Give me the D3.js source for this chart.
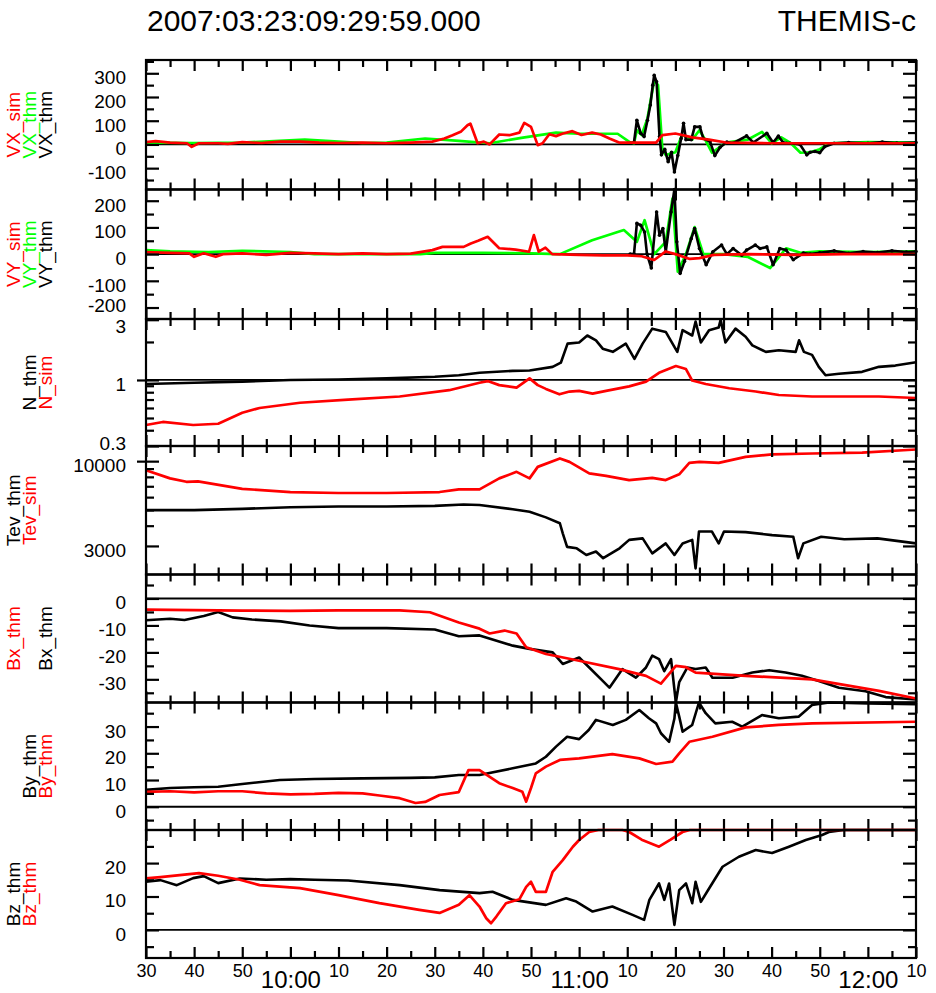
<!DOCTYPE html>
<html>
<head>
<meta charset="utf-8">
<title>THEMIS-c</title>
<script src="https://cdn.jsdelivr.net/npm/d3@7"></script>
<style>
  body { margin: 0; background: #fff; }
  svg { display: block; font-family: "Liberation Sans", Arial, Helvetica, sans-serif; }
  .tick line { stroke: #000; stroke-width: 2.2px; }
</style>
</head>
<body>
<svg id="chart" width="936" height="993"></svg>
<script>
// minutes after 09:30 UT, value
const vxSim = [[0,10],[2,14],[5,8],[8.5,5],[9.5,-10],[11,5],[15,5],[17,2],[20,10],[24,6],[28,12],[32,12],[36,8],[40,6],[45,8],[50,5],[55,8],[59.5,12],[62,25],[63.7,39],[65.5,55],[66.8,81],[67.4,88],[68.9,5],[70.2,12],[71.4,0],[73.4,42],[75.5,39],[77.6,50],[78.6,91],[80,74],[81.4,-3],[82.4,5],[83.8,43],[85.2,35],[86.5,45],[88.6,56],[90.5,40],[92.7,50],[94.5,42],[96.3,25],[98.3,8],[101,8],[106,8],[107.3,39],[110,46],[113.5,30],[117,20],[120.5,8],[130,5],[140,5],[150,5],[160,5]];
const vxThmLo = [[0,8],[10,6],[20,8],[33,20],[40,12],[45,6],[50,8],[58,25],[65,15],[71.4,5],[78,28],[85.2,50],[90,45],[98,45],[100.5,10],[101.4,5],[102,60],[103,40],[104.2,110],[105.6,270],[106.4,250],[107.3,-20],[108,-45],[110,-33],[111.4,41],[113.5,20],[115,60],[116.2,20],[117.6,-35],[120.5,8],[125,20],[128,53],[130,5],[132,30],[134,5],[136,-35],[138,-33],[140,-20],[142,5],[150,10],[160,8]];
const vxThm = [[100.6,5],[101.4,8],[102,102],[102.8,47],[103.5,33],[104.2,102],[104.8,166],[105.3,250],[105.6,292],[106.1,264],[106.7,33],[107.1,-44],[107.8,-21],[108.5,-73],[109.2,-33],[109.8,-116],[110.5,-47],[111.2,25],[111.7,89],[112.2,20],[113.3,20],[114,74],[115.1,74],[115.8,25],[117.2,12],[118.2,-47],[119.3,-12],[120.7,10],[122,5],[124.8,36],[126.2,8],[129,47],[130.3,8],[131.4,35],[132.4,8],[133.8,5],[135.9,0],[137.3,-44],[138,-33],[139,-30],[140,-35],[141,-10],[143,5],[146,8],[150,5],[153,10],[156,6],[160,8]];

const vySim = [[0,8],[5,5],[9,3],[10,-10],[12,3],[14.5,-10],[16,0],[20,3],[25,-3],[30,5],[35,3],[40,0],[45,3],[50,0],[55,2],[59.5,15],[61.6,27],[66,27],[67.5,40],[69,50],[71,65],[73.4,22],[76.8,17],[79.6,9],[80.6,71],[81.6,9],[83,24],[84.4,0],[90,-3],[95,-5],[100,-5],[103,-8],[105.6,-22],[108,10],[110,0],[113,-18],[115,-15],[118,-3],[125,0],[135,-3],[145,0],[160,0]];
const vyThmLo = [[0,15],[5,10],[13,8],[20,12],[30,8],[35,0],[57,0],[60,5],[70,5],[80,3],[86,0],[92.7,52],[99.3,90],[102,46],[103.6,127],[105.6,0],[108,46],[109.4,208],[110.5,-66],[112.2,0],[114,101],[115.8,0],[120,0],[125,-10],[129.7,-52],[133,22],[136,5],[140,10],[150,8],[160,10]];
const vyThm = [[100.6,0],[101.4,0],[102,115],[102.8,108],[103.6,83],[104.1,0],[105,-52],[106.1,158],[106.7,71],[107.4,96],[108,9],[109.1,158],[109.8,283],[110.3,46],[111,-72],[111.9,-27],[113.3,58],[114,96],[115,21],[116.4,-40],[117.8,9],[119.6,34],[120.7,0],[122,21],[123.8,-4],[124.8,15],[126.6,34],[127.6,21],[129,27],[130.3,-40],[131.7,21],[133,15],[134.5,-21],[136.6,4],[138,0],[140,5],[143,12],[146,3],[149,10],[152,6],[155,12],[158,8],[160,10]];

const nSim = [[0,0.44],[3.5,0.465],[9.8,0.44],[15,0.45],[20,0.55],[23.6,0.6],[32,0.66],[42,0.7],[52.7,0.74],[63,0.83],[69.3,0.95],[71,0.98],[73.4,0.91],[77,0.87],[79.7,1.03],[81.4,0.91],[83.1,0.85],[85.9,0.77],[88,0.81],[90,0.82],[92.8,0.78],[95.6,0.82],[100.4,0.89],[103.9,0.97],[106.6,1.14],[110.1,1.29],[112.2,1.22],[113.5,0.99],[116.3,0.93],[121.2,0.86],[126.7,0.81],[131.5,0.76],[138.4,0.74],[145.4,0.74],[152.3,0.74],[160,0.72]];
const nThm = [[0,0.93],[10,0.95],[20,0.97],[30,1.0],[40,1.01],[50,1.03],[60,1.06],[65,1.09],[69.3,1.14],[76.2,1.18],[79.7,1.19],[84.5,1.27],[86.2,1.37],[87.6,1.94],[90,1.98],[91.7,2.25],[93.5,2.06],[94.9,1.77],[97,1.67],[99.7,1.94],[101.5,1.47],[103.2,1.94],[105.2,2.55],[108,2.4],[110.4,1.67],[111.5,2.48],[113.5,2.25],[114.2,2.9],[115.3,1.98],[117,2.48],[119,2.6],[119.4,3.0],[120.4,1.98],[122.5,2.55],[124.6,2.2],[126,1.88],[128.8,1.67],[131.5,1.72],[135,1.67],[135.7,2.06],[136.7,1.67],[138.4,1.58],[139.8,1.27],[141.2,1.09],[144,1.12],[148.8,1.16],[152.3,1.27],[155.7,1.3],[160,1.38]];

const tevSim = [[0,8800],[5,7830],[8.4,7460],[10.8,7500],[20,6750],[30,6450],[40,6360],[50,6360],[61,6450],[65,6700],[69.3,6700],[73.4,7830],[77,8590],[79.7,7830],[81.4,9220],[86,10390],[88,9900],[92.1,8400],[95.6,8120],[100.4,7640],[105.2,7890],[108,7640],[110.8,8300],[112.9,9760],[115,9900],[119,9760],[124.6,10630],[130.1,11000],[138.4,11150],[148.8,11300],[160,11800]];
const tevThm = [[0,4990],[10,4990],[20,5080],[30,5200],[40,5250],[50,5250],[60,5300],[66,5400],[69.3,5360],[76.2,5050],[79.7,4870],[83.1,4500],[86,4140],[86.6,3590],[87.5,2960],[89.5,2900],[91.5,2640],[93.5,2770],[95,2520],[98.4,2900],[100.4,3270],[103.2,3340],[105.2,2700],[108,3110],[109.8,2640],[111.5,3110],[113.5,3270],[114.2,2180],[114.9,3680],[117.6,3680],[119,3110],[120.1,3680],[124.6,3650],[130.1,3500],[134.5,3420],[135.5,2520],[136.6,3110],[140.3,3420],[145.1,3300],[152,3340],[160,3110]];

const bxSim = [[0,-4.1],[10,-4.3],[20,-4.5],[30,-4.6],[40,-4.4],[52.7,-4.4],[59,-5.1],[65,-8.9],[69.3,-11.2],[71.4,-13],[74.5,-11.9],[77,-13],[79,-18.1],[83.1,-20.6],[90,-23.1],[98.3,-26.2],[103.9,-28.7],[107,-31.6],[110.1,-25],[112.2,-25.5],[114.2,-27.5],[124.6,-28.7],[138.4,-30],[152.3,-34.3],[160,-37.1]];
const bxThm = [[0,-8.1],[5,-7.5],[8,-8],[12,-6.5],[15,-5],[18,-7],[22,-7.8],[28,-8.5],[34,-10],[40,-11],[50,-11],[60,-11.5],[65,-14],[69.3,-13.7],[76.2,-17.5],[79.7,-18.7],[84.5,-20],[86.6,-24.3],[90,-21.9],[92.1,-25.6],[94.9,-30.6],[96.3,-33.1],[99,-26.2],[101.8,-29.4],[103.9,-25.6],[105.2,-21.2],[106.6,-22.5],[107.7,-27],[109.1,-22.5],[110.1,-39],[110.8,-31],[112.5,-25.6],[114.2,-26.2],[116.3,-25.6],[117.7,-29.4],[121.9,-29.4],[126,-27.5],[129.5,-26.6],[132.9,-27.5],[136.3,-28.7],[139.8,-30.6],[144,-33.1],[149.5,-34.4],[153.7,-36.6],[160,-37.5]];

const bySim = [[0,5.6],[5,5.8],[10,5.4],[15,5.8],[20,5.8],[25,5],[30,4.6],[35,4.8],[40,5.2],[45,5],[48.5,4.2],[52.7,3.2],[56,1.4],[58,1.8],[61,4.4],[65,5.5],[67,13.7],[69.3,13.7],[73.4,8.8],[76.2,7],[78.2,5.6],[79,1.9],[80,7],[81,12.5],[83.1,15],[86,17.5],[90,18.1],[96.9,19.7],[102.5,18.1],[106,16],[109.4,16.9],[110.8,20],[112.9,24.3],[117.7,26.2],[124.6,29.7],[131.5,30.6],[138.4,31.2],[160,31.8]];
const byThm = [[0,6.3],[5,7],[10,7.3],[15,7.5],[20,8.5],[27.8,10],[35,10.4],[45,10.6],[55,10.8],[60,11],[65,11.9],[69.3,11.9],[76.2,14.4],[81,16.2],[83.1,18.7],[85.2,22.5],[87.5,26.2],[90,25.3],[92,28.7],[93.5,32.5],[97,30.6],[99.7,32.5],[102.5,36.2],[104.5,33.1],[106,31.2],[107,27.5],[108.7,24.3],[109.8,33],[110.1,42],[110.8,33.7],[111.5,28.1],[113.5,30.6],[114.9,42],[116.3,35],[118.3,31.2],[121.8,31.8],[123.9,30],[128,34.3],[131.5,33.1],[135.6,33.7],[138.4,38.1],[141.9,39.3],[150,38.6],[160,38.4]];

const bzSim = [[0,15.4],[3,15.8],[7,16.4],[11,17],[15,16.2],[19.5,15],[23.6,13.4],[32,12.5],[40,10.4],[48.5,8],[56.8,6],[61,5.1],[65,7.5],[67.2,10.4],[69.3,7],[70.7,3.5],[71.7,2],[72.8,4],[74.8,8],[77.6,9.2],[79,12.9],[80,14.4],[81,11.4],[83.1,11.4],[84.5,17.4],[86.6,20.9],[88.7,24.9],[90,26.9],[92.1,29.3],[94,32],[99,32],[100.4,29.3],[103,27],[106.6,24.9],[109,27],[111.5,29.3],[113,33],[160,34]];
const bzThm = [[0,14.4],[3,14.9],[6.4,13.4],[9.8,15.5],[12,16.1],[15,14],[19.5,15.4],[25,15],[30,15.2],[35,15],[42,14.8],[52.7,13.4],[61,11.9],[69.3,11],[72,11.4],[76.2,9],[83.1,7.5],[87.3,9.5],[89.4,8.5],[92.8,5.5],[96.9,7],[101.1,4.5],[103.5,3],[104.6,9],[106.6,13.9],[107.7,9],[108.7,13.9],[109.8,1.5],[110.8,11.9],[112.2,13.9],[113.5,8],[114.2,14.4],[115.3,8.4],[117,12.4],[119.8,18.9],[123.2,21.9],[126.7,23.9],[130.1,23],[133.6,24.9],[137.1,26.9],[140.5,28.4],[141.9,29.3],[145,30],[160,30.5]];

// x tick labels, every 10 minutes from 09:30 to 12:10
const xLabels = ['30','40','50','10:00','10','20','30','40','50','11:00','10','20','30','40','50','12:00','10'];

const RED = '#ff0000', GREEN = '#00ff00', BLACK = '#000000';

const left = 146, right = 916;
const edges = [60, 189.5, 319, 446, 574.5, 702.5, 830, 958];

const panels = [
  { domain: [-190, 356], major: [-100, 0, 100, 200, 300], minorStep: 50, ref: 0,
    labels: [['VX_sim', RED, 0], ['VX_thm', GREEN, 1], ['VX_thm', BLACK, 2]],
    series: [[vxThmLo, GREEN], [vxThm, BLACK, true], [vxSim, RED]] },
  { domain: [-243, 242], major: [-200, -100, 0, 100, 200], minorStep: 50, ref: 0,
    labels: [['VY_sim', RED, 0], ['VY_thm', GREEN, 1], ['VY_thm', BLACK, 2]],
    series: [[vyThmLo, GREEN], [vyThm, BLACK, true], [vySim, RED]], labelShift: { '-200': -6 } },
  { domain: [0.3, 3.04], log: true, major: [0.3, 1, 3], minor: [0.4, 0.5, 0.6, 0.7, 0.8, 0.9, 2], ref: 1, outTick: 1,
    labels: [['N_thm', BLACK, 1], ['N_sim', RED, 2]],
    series: [[nThm, BLACK], [nSim, RED]], labelShift: { '0.3': -7, '3': 2 } },
  { domain: [2000, 12400], log: true, major: [3000, 10000], minor: [4000, 5000, 6000, 7000, 8000, 9000], outTick: 10000,
    labels: [['Tev_thm', BLACK, 0], ['Tev_sim', RED, 1]],
    series: [[tevThm, BLACK], [tevSim, RED]] },
  { domain: [-38.6, 8.9], major: [-30, -20, -10, 0], minorStep: 5, ref: 0,
    labels: [['Bx_thm', RED, 0], ['Bx_thm', BLACK, 2]],
    series: [[bxThm, BLACK], [bxSim, RED]] },
  { domain: [-8.7, 39], major: [0, 10, 20, 30], minorStep: 5, ref: 0,
    labels: [['By_thm', BLACK, 1], ['By_thm', RED, 2]],
    series: [[byThm, BLACK], [bySim, RED]] },
  { domain: [-8.4, 29.9], major: [0, 10, 20], minorStep: 5, ref: 0,
    labels: [['Bz_thm', BLACK, 0], ['Bz_thm', RED, 1]],
    series: [[bzThm, BLACK], [bzSim, RED]] }
];

const svg = d3.select('#chart');

const x = d3.scaleLinear().domain([0, 160]).range([left, right]);
const xMajor = d3.range(0, 161, 10);
const xMinor = d3.range(5, 160, 10);

// title
svg.append('text').attr('x', 147).attr('y', 31)
  .style('font-size', '30px').text('2007:03:23:09:29:59.000');
svg.append('text').attr('x', right).attr('y', 31).attr('text-anchor', 'end')
  .style('font-size', '30px').text('THEMIS-c');

const labelCols = [20, 36, 52];
const noDomain = g => g.select('.domain').remove();

panels.forEach((p, i) => {
  const top = edges[i], bottom = edges[i + 1];
  const y = (p.log ? d3.scaleLog() : d3.scaleLinear())
    .domain(p.domain).range([bottom, top]).clamp(true);
  const minor = p.minor || d3.range(Math.ceil(p.domain[0] / p.minorStep) * p.minorStep, p.domain[1], p.minorStep)
    .filter(v => !p.major.includes(v));
  const shift = p.labelShift || {};
  const g = svg.append('g');

  // reference line
  if (p.ref !== undefined) {
    g.append('line').attr('x1', left).attr('x2', right)
      .attr('y1', y(p.ref)).attr('y2', y(p.ref))
      .attr('stroke', BLACK).attr('stroke-width', 1.8);
  }

  // data
  const line = d3.line().x(d => x(d[0])).y(d => y(d[1]));
  p.series.forEach(([data, color, dots]) => {
    g.append('path').datum(data)
      .attr('d', line)
      .attr('fill', 'none')
      .attr('stroke', color)
      .attr('stroke-width', color === BLACK ? 2.6 : 2.7)
      .attr('stroke-linejoin', 'round');
    if (dots) {
      g.selectAll(null).data(data).enter().append('circle')
        .attr('cx', d => x(d[0])).attr('cy', d => y(d[1]))
        .attr('r', 1.8).attr('fill', BLACK);
    }
  });

  // y ticks, inward on both sides
  g.append('g').attr('transform', `translate(${left},0)`)
    .call(d3.axisRight(y).tickValues(p.major).tickSize(13).tickFormat('')).call(noDomain);
  g.append('g').attr('transform', `translate(${left},0)`)
    .call(d3.axisRight(y).tickValues(minor).tickSize(8).tickFormat('')).call(noDomain);
  g.append('g').attr('transform', `translate(${right},0)`)
    .call(d3.axisLeft(y).tickValues(p.major).tickSize(13).tickFormat('')).call(noDomain);
  g.append('g').attr('transform', `translate(${right},0)`)
    .call(d3.axisLeft(y).tickValues(minor).tickSize(8).tickFormat('')).call(noDomain);
  if (p.outTick) {
    g.append('g').attr('transform', `translate(${left},0)`)
      .call(d3.axisLeft(y).tickValues([p.outTick]).tickSize(9).tickFormat('')).call(noDomain);
  }

  // y tick labels
  g.append('g').attr('transform', `translate(${left},0)`)
    .call(d3.axisLeft(y).tickValues(p.major).tickSize(0).tickPadding(20).tickFormat(d => String(d)))
    .call(noDomain)
    .call(a => a.selectAll('text')
      .attr('dy', '0.55em')
      .attr('y', d => shift[String(d)] || 0)
      .style('font-size', '19px')
      .attr('fill', BLACK).style('font-family', '"Liberation Sans", Arial, sans-serif'));

  // x ticks at top (pointing down) and bottom (pointing up)
  g.append('g').attr('transform', `translate(0,${top})`)
    .call(d3.axisBottom(x).tickValues(xMajor).tickSize(11).tickFormat('')).call(noDomain);
  g.append('g').attr('transform', `translate(0,${top})`)
    .call(d3.axisBottom(x).tickValues(xMinor).tickSize(7).tickFormat('')).call(noDomain);
  g.append('g').attr('transform', `translate(0,${bottom})`)
    .call(d3.axisTop(x).tickValues(xMajor).tickSize(11).tickFormat('')).call(noDomain);
  g.append('g').attr('transform', `translate(0,${bottom})`)
    .call(d3.axisTop(x).tickValues(xMinor).tickSize(7).tickFormat('')).call(noDomain);

  // frame
  g.append('rect').attr('x', left).attr('y', top)
    .attr('width', right - left).attr('height', bottom - top)
    .attr('fill', 'none').attr('stroke', BLACK).attr('stroke-width', 2.2);

  // rotated y labels
  const cy = (top + bottom) / 2;
  p.labels.forEach(([txt, color, col]) => {
    svg.append('text')
      .attr('transform', `translate(${labelCols[col]},${cy}) rotate(-90)`)
      .attr('text-anchor', 'middle')
      .attr('fill', color)
      .style('font-size', '19px')
      .text(txt);
  });
});

// x tick labels
const hourIdx = new Set([3, 9, 15]);
svg.append('g').attr('transform', `translate(0,${edges[7]})`)
  .call(d3.axisBottom(x).tickValues(xMajor).tickSize(0).tickPadding(6)
    .tickFormat((d, i) => xLabels[i]))
  .call(noDomain)
  .call(a => a.selectAll('text')
    .attr('fill', BLACK)
    .style('font-family', '"Liberation Sans", Arial, sans-serif')
    .style('font-size', (d, i) => hourIdx.has(i) ? '24px' : '18px')
    .attr('y', (d, i) => hourIdx.has(i) ? 13 : 6));
</script>
</body>
</html>
